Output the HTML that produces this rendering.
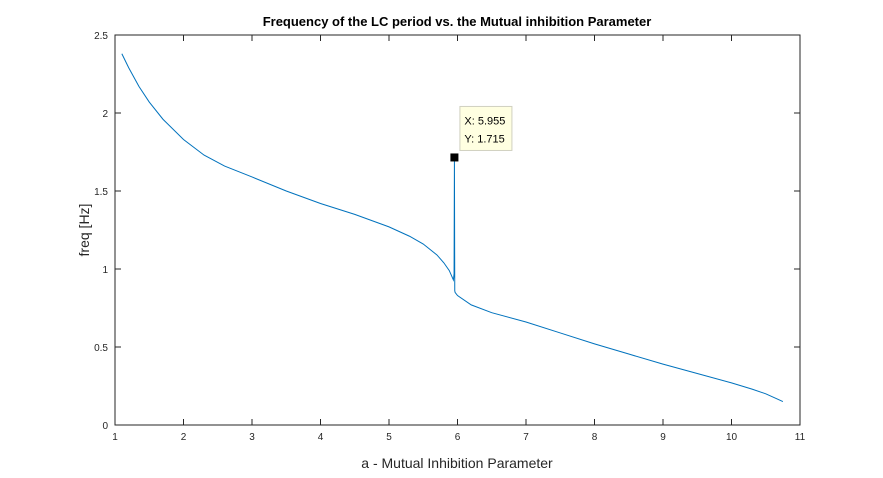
<!DOCTYPE html>
<html><head><meta charset="utf-8"><style>
body{margin:0;background:#fff;}
svg{display:block;font-family:"Liberation Sans",sans-serif;}
</style></head><body>
<svg id="chart" width="883" height="478">
<rect width="883" height="478" fill="#fff"/>
<text x="457" y="26" text-anchor="middle" font-size="13" font-weight="bold" fill="#000">Frequency of the LC period vs. the Mutual inhibition Parameter</text>
<text x="457" y="468" text-anchor="middle" font-size="14" fill="#262626">a - Mutual Inhibition Parameter</text>
<text transform="translate(89,230) rotate(-90)" text-anchor="middle" font-size="14" fill="#262626">freq [Hz]</text>
<g id="axes"></g>
<g id="series"></g>
<g id="tip"></g>
</svg>
<script>
const xTicks=[1,2,3,4,5,6,7,8,9,10,11];
const yTicks=[0,0.5,1,1.5,2,2.5];
const yTickLabels=["0","0.5","1","1.5","2","2.5"];
const aValues=[1.1,1.2,1.35,1.5,1.7,2,2.3,2.6,3,3.5,4,4.5,5,5.3,5.5,5.7,5.8,5.88,5.92,5.94,5.95,5.955,5.96,5.965,6,6.2,6.5,7,7.5,8,8.5,9,9.5,10,10.3,10.5,10.65,10.75];
const freqValues=[2.38,2.29,2.17,2.07,1.96,1.83,1.73,1.66,1.59,1.5,1.42,1.35,1.27,1.21,1.16,1.09,1.04,0.99,0.95,0.93,0.97,1.715,0.86,0.85,0.83,0.77,0.72,0.66,0.59,0.52,0.455,0.39,0.33,0.27,0.23,0.2,0.17,0.15];
const tipX=5.955, tipY=1.715;
const L=115,R=800,T=35,B=425;
const sx=v=>L+(v-1)/(11-1)*(R-L);
const sy=v=>B-(v/2.5)*(B-T);
const NS="http://www.w3.org/2000/svg";
function mk(tag,attrs,parent){const e=document.createElementNS(NS,tag);for(const k in attrs)e.setAttribute(k,attrs[k]);parent.appendChild(e);return e;}
const ax=document.getElementById('axes');
let box=mk('rect',{x:L,y:T,width:R-L,height:B-T,fill:'none',stroke:'#262626','stroke-width':1},ax);


xTicks.forEach(v=>{const x=sx(v);
mk('line',{x1:x,x2:x,y1:B,y2:B-6,stroke:'#262626'},ax);
mk('line',{x1:x,x2:x,y1:T,y2:T+6,stroke:'#262626'},ax);
const t=mk('text',{x:x,y:B+15,'text-anchor':'middle','font-size':10,fill:'#262626'},ax);t.textContent=v;

});
yTicks.forEach((v,i)=>{const y=sy(v);
mk('line',{x1:L,x2:L+6,y1:y,y2:y,stroke:'#262626'},ax);
mk('line',{x1:R,x2:R-6,y1:y,y2:y,stroke:'#262626'},ax);
const t=mk('text',{x:L-7,y:y+4,'text-anchor':'end','font-size':10,fill:'#262626'},ax);t.textContent=yTickLabels[i];

});
const d=aValues.map((a,i)=>(i?'L':'M')+sx(a).toFixed(2)+','+sy(freqValues[i]).toFixed(2)).join(' ');
const p=mk('path',{d:d,fill:'none',stroke:'#0072bd','stroke-width':1},document.getElementById('series'));


const tg=document.getElementById('tip');
const px=sx(tipX),py=sy(tipY);
const m=mk('rect',{x:px-4,y:py-4,width:8,height:8,fill:'#000'},tg);


const bx=mk('rect',{x:px+5.5,y:py-51,width:52,height:44,fill:'#ffffe1',stroke:'#d0d0c0'},tg);


const t1=mk('text',{x:px+10,y:py-33,'font-size':11,fill:'#000'},tg);t1.textContent='X: '+tipX.toFixed(3);


const t2=mk('text',{x:px+10,y:py-15,'font-size':11,fill:'#000'},tg);t2.textContent='Y: '+tipY.toFixed(3);


</script>
</body></html>
